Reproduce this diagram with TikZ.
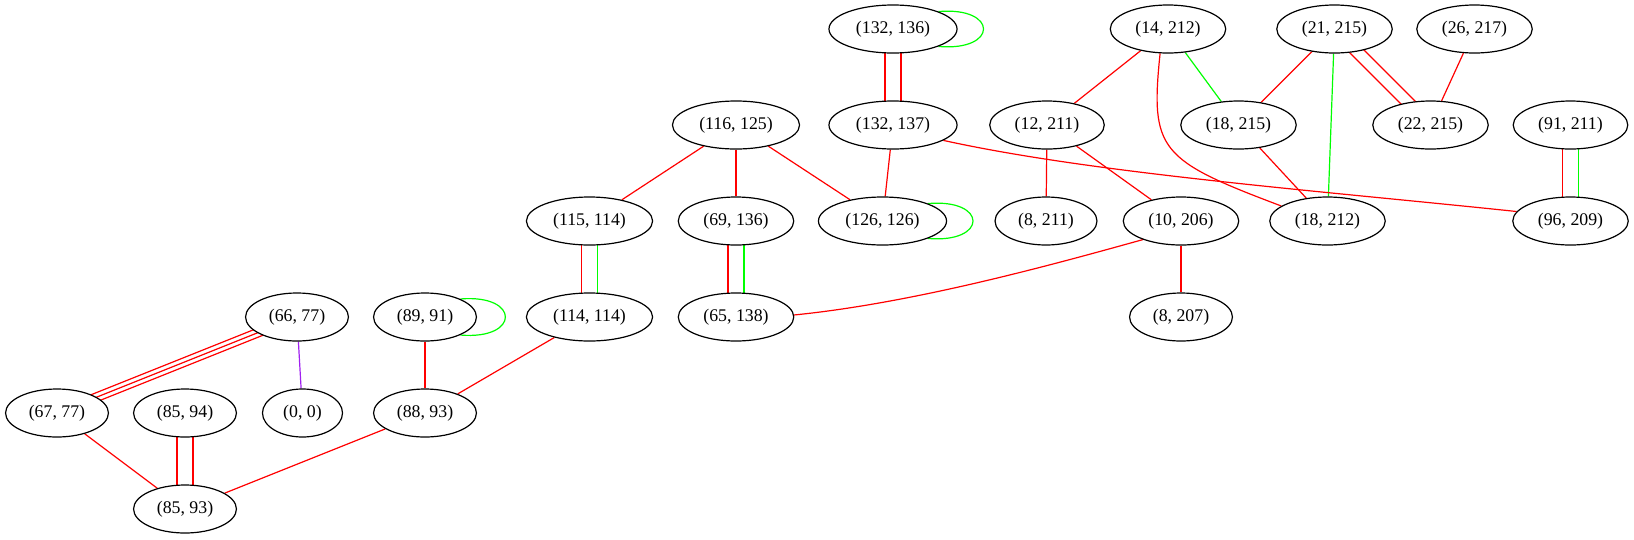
\documentclass[tikz,border=0pt]{standalone}
\usepackage{fontspec}
\setmainfont{Liberation Serif}
\usetikzlibrary{shapes.geometric, calc, backgrounds}
\definecolor{gvgreen}{HTML}{00FF00}
\definecolor{gvpurple}{HTML}{A020F0}
\tikzset{
  pair/.style={ellipse, draw, line width=1.2pt, fill=white, minimum height=48pt, minimum width=80pt,
    inner xsep=8.2pt, inner ysep=2pt, font=\fontsize{17.8}{21}\selectfont},
  link/.style={line width=1.2pt}
}

\begin{document}
\begin{tikzpicture}[x=1pt, y=-1pt]
    \useasboundingbox (0,0) rectangle (1634,539);

    % Draw nodes
    \foreach \a/\b/\x/\y in {132/136/893/29, 14/212/1168/29, 21/215/1334.5/29, 26/217/1474.5/29,
      116/125/736/125, 132/137/893/125, 12/211/1047/125, 18/215/1238.5/125, 22/215/1430.5/125, 91/211/1570.5/125,
      115/114/589.5/221, 69/136/736/221, 126/126/882.5/221, 8/211/1046/221, 10/206/1181/221, 18/212/1327.5/221, 96/209/1570.5/221,
      66/77/297/317, 89/91/425/317, 114/114/589.5/317, 65/138/736/317, 8/207/1181/317,
      67/77/57/413, 85/94/185/413, 0/0/302.5/413, 88/93/425/413, 85/93/185/509}
      \node[pair] (n\a-\b) at (\x,\y) {(\a, \b)};

    \begin{scope}[on background layer]
      % Single edges
      \foreach \a/\b in {132-137/126-126, 116-125/115-114, 116-125/69-136, 116-125/126-126, 114-114/88-93,
        10-206/8-207, 12-211/8-211, 12-211/10-206, 14-212/12-211, 21-215/18-215, 26-217/22-215,
        18-215/18-212, 89-91/88-93, 67-77/85-93, 88-93/85-93}
        \draw[link, red] (n\a) -- (n\b);
      \draw[link, gvgreen] (n14-212) -- (n18-215);
      \draw[link, gvgreen] (n21-215) -- (n18-212);
      \draw[link, gvpurple] (n66-77) -- (n0-0);

      % Double edges
      \foreach \a/\b/\d/\cl/\cr in {132-136/132-137/8pt/red/red, 115-114/114-114/8pt/red/gvgreen,
        69-136/65-138/8pt/red/gvgreen, 91-211/96-209/8pt/red/gvgreen, 85-94/85-93/8pt/red/red,
        21-215/22-215/6pt/red/red} {
        \draw[link, \cl] ($(n\a)!\d!-90:(n\b)$) -- ($(n\b)!\d!90:(n\a)$);
        \draw[link, \cr] ($(n\a)!\d!90:(n\b)$) -- ($(n\b)!\d!-90:(n\a)$);
      }
      % Triple edge
      \foreach \d in {-4.3pt, 0pt, 4.3pt}
        \draw[link, red] ($(n66-77)!\d!90:(n67-77)$) -- ($(n67-77)!\d!-90:(n66-77)$);

      % Self loops
      \foreach \n/\s in {132-136/21, 126-126/21, 89-91/27}
        \draw[link, gvgreen] (n\n.\s) .. controls +(60,-5) and +(60,5) .. (n\n.-\s);

      % Curved edges
      \draw[link, red] (n132-137.-17) .. controls +(150,33) and +(-200,-21) .. (n96-209.170);
      \draw[link, red] (n10-206.206) .. controls +(-90,25) and +(120,-12) .. (n65-138.2);
      \draw[link, red] (n14-212.-108) .. controls +(-10,97) and +(-122,-46) .. (n18-212.162);
    \end{scope}
\end{tikzpicture}
\end{document}
